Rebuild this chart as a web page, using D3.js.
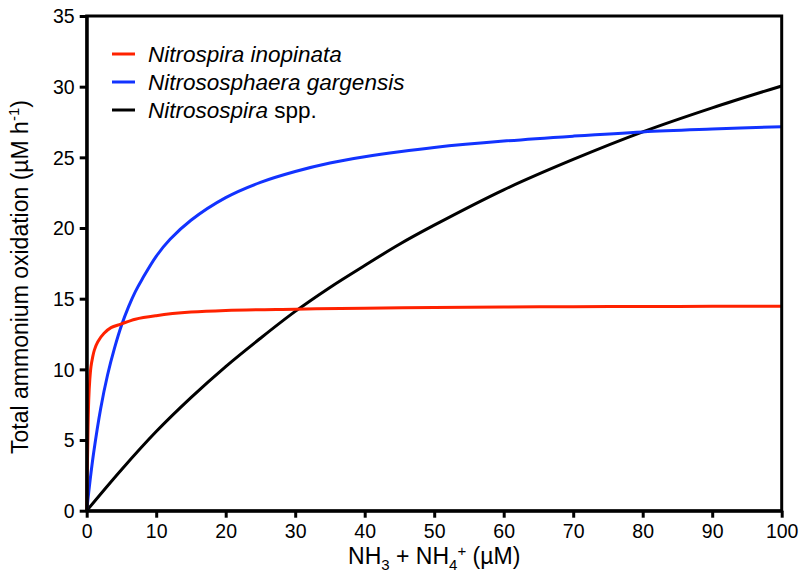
<!DOCTYPE html>
<html><head><meta charset="utf-8">
<script src="https://cdn.jsdelivr.net/npm/d3@7/dist/d3.min.js"></script>
<style>body{margin:0;background:#fff}svg text{font-family:"Liberation Sans",Arial,sans-serif}</style>
</head><body><svg id="c" width="800" height="588"></svg>
<script>
const xTicks=[0,10,20,30,40,50,60,70,80,90,100];
const yTicks=[0,5,10,15,20,25,30,35];
const seriesNames=["Nitrospira inopinata","Nitrososphaera gargensis","Nitrosospira"];
const seriesColors=["#ff2200","#1233ff","#000000"];
const redX=[0,0.07,0.14,0.29,0.45,0.62,0.85,1.1,1.6,2.5,3.5,4.9,7,10,15,20,30,40,50,60,70,80,90,100];
const redY=[0,2.4,4.3,7.8,9.3,10.2,10.85,11.36,11.95,12.55,12.95,13.2,13.55,13.8,14.05,14.17,14.26,14.33,14.38,14.41,14.43,14.45,14.46,14.47];
const blueX=[0,0.5,1,2,3,4,5,6,7,8,10,12,15,20,25,30,35,40,45,50,60,70,80,90,100];
const blueY=[0,2.2,4.1,7.2,9.6,11.5,13.1,14.4,15.5,16.4,18.0,19.2,20.55,22.15,23.23,24.0,24.6,25.04,25.4,25.7,26.15,26.5,26.8,27.0,27.17];
const blackX=[0,5,10,15,20,25,30,35,40,45,50,60,70,80,90,100];
const blackY=[0,2.9,5.6,8.0,10.2,12.2,14.1,15.8,17.35,18.85,20.2,22.7,24.85,26.8,28.5,30.05];

const svg=d3.select("#c");
const L=86.7,R=781.7,T=16,B=510.7;
const x=d3.scaleLinear().domain([0,100]).range([L,R]);
const y=d3.scaleLinear().domain([0,35]).range([B,T]);

const line=d3.line().x(d=>x(d[0])).y(d=>y(d[1])).curve(d3.curveCatmullRom.alpha(0.5));
const data=[d3.zip(redX,redY),d3.zip(blueX,blueY),d3.zip(blackX,blackY)];
[2,1,0].forEach(i=>{
  svg.append("path").datum(data[i]).attr("d",line).attr("fill","none")
    .attr("stroke",seriesColors[i]).attr("stroke-width",3).attr("stroke-linejoin","round");
});

svg.append("rect").attr("x",L).attr("y",T).attr("width",R-L).attr("height",B-T)
  .attr("fill","none").attr("stroke","#000").attr("stroke-width",3);

const xa=svg.append("g").attr("transform",`translate(0,${B})`)
  .call(d3.axisBottom(x).tickValues(xTicks).tickSize(7).tickPadding(6).tickSizeOuter(0));
const ya=svg.append("g").attr("transform",`translate(${L},0)`)
  .call(d3.axisLeft(y).tickValues(yTicks).tickSize(7).tickPadding(5).tickSizeOuter(0));
[xa,ya].forEach(a=>{
  a.select(".domain").attr("stroke","#000").attr("stroke-width",3);
  a.selectAll(".tick line").attr("stroke","#000").attr("stroke-width",3);
  a.selectAll(".tick text").attr("font-size",19.5).attr("fill","#000")
   .style("font-family",'"Liberation Sans",Arial,sans-serif');
});
ya.selectAll(".tick text").attr("dy","0.35em");

const xt=svg.append("text").attr("x",(L+R)/2).attr("y",564).attr("text-anchor","middle")
  .attr("font-size",23).attr("fill","#000");
xt.append("tspan").text("NH");
xt.append("tspan").text("3").attr("font-size",15).attr("dy",6);
xt.append("tspan").text(" + NH").attr("dy",-6);
xt.append("tspan").text("4").attr("font-size",15).attr("dy",6);
xt.append("tspan").text("+").attr("font-size",15).attr("dy",-14);
xt.append("tspan").text(" (µM)").attr("dy",8);

const yt=svg.append("text").attr("transform",`translate(28,277) rotate(-90)`)
  .attr("text-anchor","middle").attr("font-size",23).attr("fill","#000");
yt.append("tspan").text("Total ammonium oxidation (µM h");
yt.append("tspan").text("-1").attr("font-size",15).attr("dy",-9);
yt.append("tspan").text(")").attr("dy",9);

const legY=[54,82,110];
seriesNames.forEach((n,i)=>{
  svg.append("line").attr("x1",112).attr("x2",135).attr("y1",legY[i]).attr("y2",legY[i])
    .attr("stroke",seriesColors[i]).attr("stroke-width",3);
  const t=svg.append("text").attr("x",148).attr("y",legY[i]).attr("dy","0.35em")
    .attr("font-size",22.5).attr("fill","#000");
  t.append("tspan").text(n).attr("font-style","italic");
  if(i===2) t.append("tspan").text(" spp.");
});
</script></body></html>
